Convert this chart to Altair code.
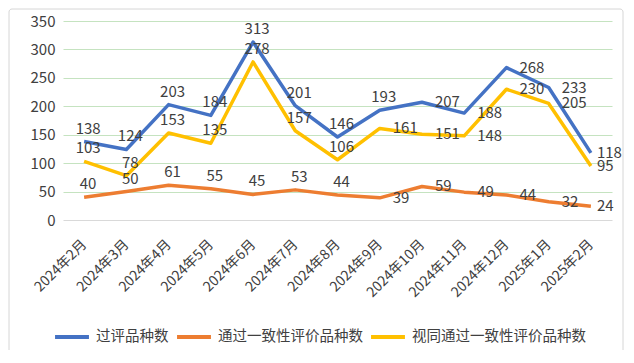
import altair as alt
import pandas as pd

months = ["2024年2月", "2024年3月", "2024年4月", "2024年5月", "2024年6月", "2024年7月",
          "2024年8月", "2024年9月", "2024年10月", "2024年11月", "2024年12月", "2025年1月", "2025年2月"]
series_names = ["过评品种数", "通过一致性评价品种数", "视同通过一致性评价品种数"]
reviewed = [138, 124, 203, 184, 313, 201, 146, 193, 207, 188, 268, 233, 118]
passed = [40, 50, 61, 55, 45, 53, 44, 39, 59, 49, 44, 32, 24]
deemed = [103, 78, 153, 135, 278, 157, 106, 161, 151, 148, 230, 205, 95]
colors = ["#4472C4", "#ED7D31", "#FFC000"]

rows = []
for name, vals in zip(series_names, [reviewed, passed, deemed]):
    for i, (m, v) in enumerate(zip(months, vals)):
        rows.append({"month": m, "series": name, "value": v, "i": i})
df = pd.DataFrame(rows)

FONT = "Noto Sans CJK SC"
TXT = "#404040"

x = alt.X("month:N", sort=months, title=None,
          scale=alt.Scale(type="point", padding=0.5),
          axis=alt.Axis(labelAngle=-45, labelFontSize=14, labelColor=TXT, labelFont=FONT,
                        labelAlign="right", labelBaseline="middle",
                        ticks=False, domain=False, labelPadding=22, labelOffset=0))
y = alt.Y("value:Q", title=None,
          scale=alt.Scale(domain=[0, 350], nice=False),
          axis=alt.Axis(values=[0, 50, 100, 150, 200, 250, 300, 350], labelFontSize=15,
                        labelColor=TXT, labelFont=FONT, ticks=False, domain=False, labelPadding=8,
                        gridColor={"condition": {"test": "datum.value === 0", "value": "#d9d9d9"},
                                   "value": "#c5e3c0"},
                        gridWidth=1))
color = alt.Color("series:N", sort=series_names, title=None,
                  scale=alt.Scale(domain=series_names, range=colors),
                  legend=alt.Legend(orient="none", legendX=-10, legendY=297, direction="horizontal",
                                    symbolType="stroke", symbolStrokeWidth=4, symbolSize=1150,
                                    labelFontSize=14.5, labelFont=FONT, labelColor=TXT,
                                    labelLimit=400, columnPadding=0, labelOffset=5,
                                    gridAlign="none"))

base = alt.Chart(df)

frame = alt.Chart(pd.DataFrame({"k": [0]})).mark_rect(
    fill="transparent", stroke="#d6d6d6", strokeWidth=1, cornerRadius=3
).encode(x=alt.value(-54), x2=alt.value(560), y=alt.value(-12), y2=alt.value(336))

lines = base.mark_line(strokeWidth=3.5, strokeJoin="round").encode(x=x, y=y, color=color)

def above(filter_expr, dx=4):
    return base.transform_filter(filter_expr).mark_text(
        font=FONT, fontSize=15, color=TXT, align="center", baseline="bottom", dy=-5, dx=dx
    ).encode(x=x, y=y, text="value:Q")

def right(filter_expr, dx=13):
    return base.transform_filter(filter_expr).mark_text(
        font=FONT, fontSize=15, color=TXT, align="left", baseline="middle", dx=dx, dy=0
    ).encode(x=x, y=y, text="value:Q")

blue_above = above("datum.series === '过评品种数' && datum.i <= 7")
blue_right = right("datum.series === '过评品种数' && datum.i > 7 && datum.i < 12")
other_above = above("datum.series !== '过评品种数' && datum.i <= 6")
other_right = right("datum.series !== '过评品种数' && datum.i > 6 && datum.i < 12")
last_right = right("datum.i === 12", dx=6)

chart = alt.layer(frame, lines, blue_above, blue_right, other_above, other_right, last_right).properties(
    width=549, height=199,
    autosize=alt.AutoSizeParams(type="none"),
    padding={"left": 55, "top": 13, "right": 14, "bottom": 130},
    background="white"
).configure_view(stroke=None)

chart.save("out.html", embed_options={"renderer": "svg", "actions": False})
